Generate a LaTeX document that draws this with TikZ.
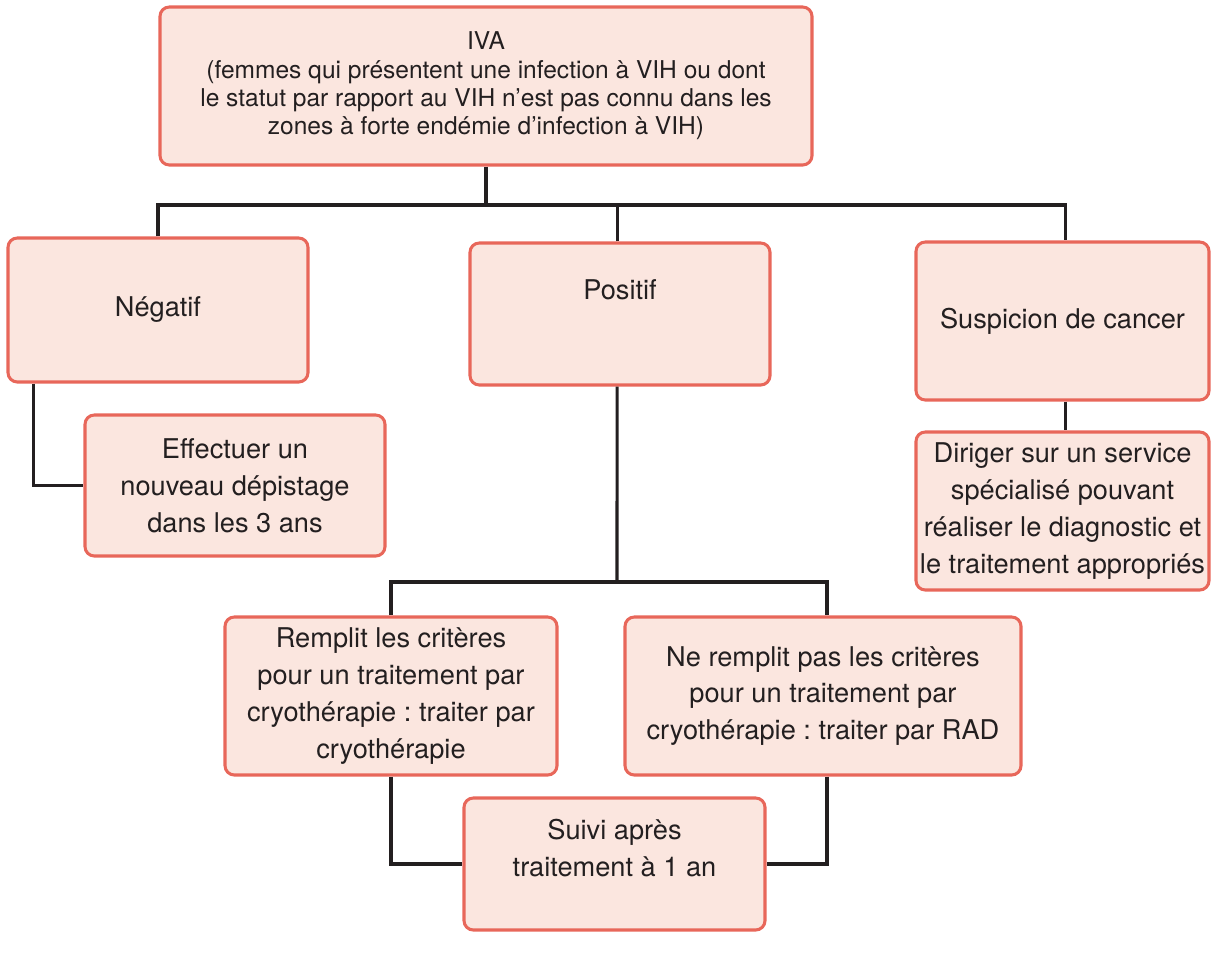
\documentclass[tikz,border=0pt]{standalone}
\usepackage{fontspec}
\setmainfont{TeX Gyre Heros}
\frenchspacing
\definecolor{boxfill}{HTML}{FBE6DF}
\definecolor{boxdraw}{HTML}{E8675A}
\definecolor{ink}{HTML}{231F20}
\begin{document}
\begin{tikzpicture}[x=0.75pt,y=-0.75pt,
  box/.style={draw=boxdraw, fill=boxfill, line width=2.3pt, rounded corners=7pt,
    inner sep=0pt, align=center, text=ink, font=\fontsize{20.4}{27.6}\selectfont},
  lbl/.style={inner sep=0pt, align=center, text=ink, font=\fontsize{20.4}{27.6}\selectfont},
  conn/.style={draw=ink, line width=2.3pt}]
\useasboundingbox (0,0) rectangle (1211,957);

\node[box, minimum width=489pt, minimum height=118.5pt, font=\fontsize{18.4}{21.3}\selectfont] (top) at (486,86)
  {IVA\\(femmes qui présentent une infection à VIH ou dont\\le statut par rapport au VIH n’est pas connu dans les\\zones à forte endémie d’infection à VIH)};

\node[box, minimum width=225pt, minimum height=108pt] (neg) at (158,310) {Négatif};
\node[box, minimum width=225pt, minimum height=106.5pt] (pos) at (620,314) {};
\node[lbl] (poslbl) at ([yshift=18pt]pos.center) {Positif};
\node[box, minimum width=219.75pt, minimum height=118.5pt] (susp) at (1062.5,321) {Suspicion de cancer};

\node[box, minimum width=225pt, minimum height=105.75pt] (eff) at (235,485.5)
  {Effectuer un\\nouveau dépistage\\dans les 3 ans};
\node[box, minimum width=219.75pt, minimum height=118.5pt] (dir) at (1062.5,511)
  {Diriger sur un service\\spécialisé pouvant\\réaliser le diagnostic et\\le traitement appropriés};

\node[box, minimum width=249pt, minimum height=118.5pt] (rem) at (391,696)
  {Remplit les critères\\pour un traitement par\\cryothérapie : traiter par\\cryothérapie};
\node[box, minimum width=297pt, minimum height=118.5pt] (ne) at (823,696)
  {Ne remplit pas les critères\\pour un traitement par\\cryothérapie : traiter par RAD};

\node[box, minimum width=225.75pt, minimum height=99pt] (suivi) at (614.5,864) {};
\node[lbl] (suivilbl) at ([yshift=12pt]suivi.center) {Suivi après\\traitement à 1 an};

% connectors
\coordinate (j1) at (486,205);
\draw[conn] (top.south) -- (j1);
\draw[conn] (neg.north) |- (j1) -| ([xshift=1.9pt]susp.north);
\draw[conn] ([xshift=-2.2pt]pos.north) -- ([xshift=-2.2pt]pos.north |- j1);
\draw[conn] ([xshift=20.25pt]neg.south west) |- (eff.west);
\draw[conn] ([xshift=1.9pt]susp.south) -- ([xshift=1.9pt]dir.north);
\coordinate (j2) at (617,582);
\draw[conn] ([xshift=-2.2pt]pos.south) -- (j2);
\draw[conn] (rem.north) |- (j2) -| ([xshift=3pt]ne.north);
\draw[conn] (rem.south) |- (suivi.west);
\draw[conn] ([xshift=3pt]ne.south) |- (suivi.east);
\end{tikzpicture}
\end{document}
